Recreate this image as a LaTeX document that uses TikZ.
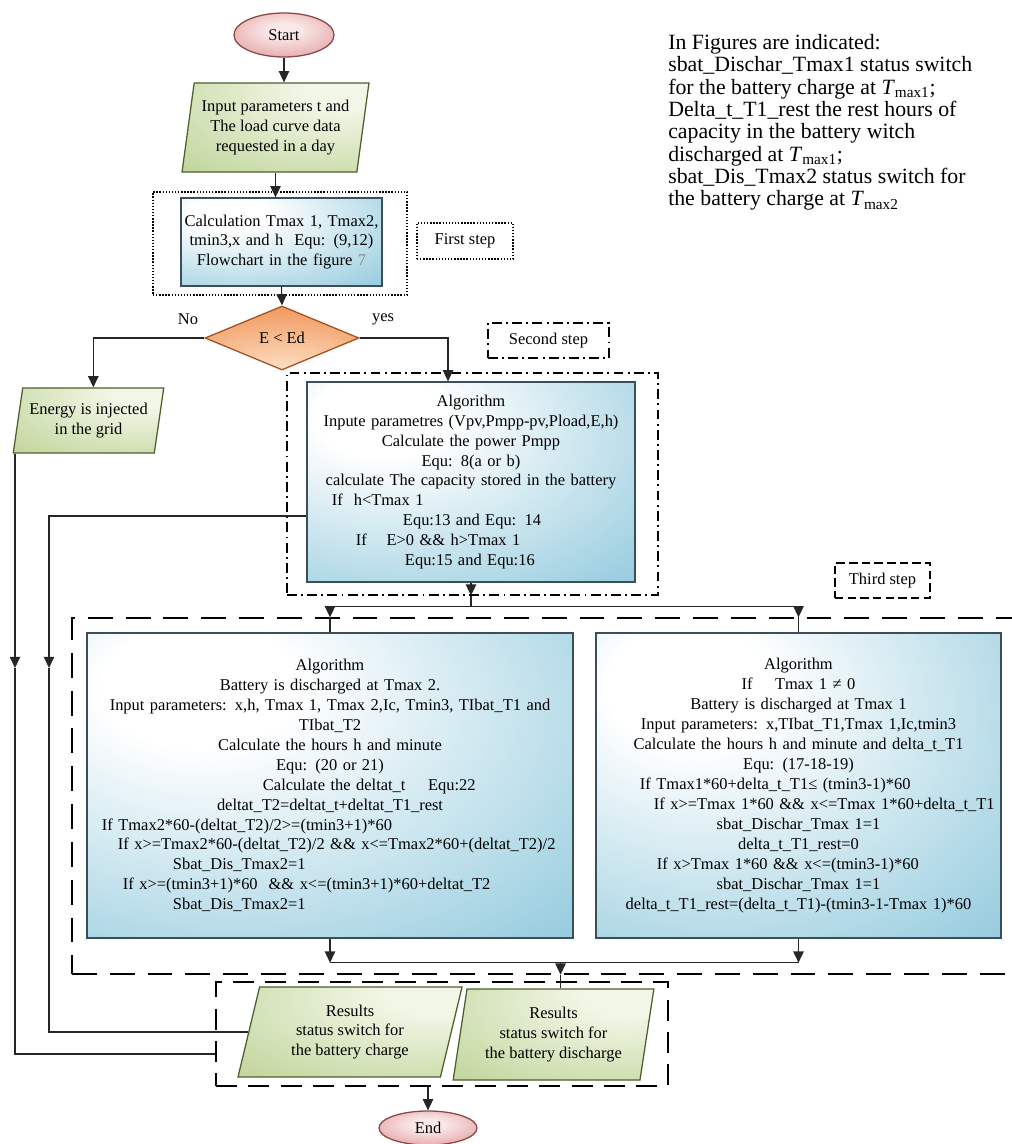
\documentclass[tikz,border=0pt]{standalone}
\usepackage{fontspec}
\setmainfont{Liberation Serif}
\usetikzlibrary{shapes.geometric,arrows.meta,calc}
\definecolor{boxblue}{RGB}{72,166,198}
\definecolor{boxedge}{RGB}{60,78,90}
\definecolor{grlight}{RGB}{242,246,230}
\definecolor{grdark}{RGB}{150,186,92}
\definecolor{gredge}{RGB}{78,95,45}
\definecolor{pinkin}{RGB}{250,232,232}
\definecolor{pinkout}{RGB}{214,118,120}
\definecolor{pinkedge}{RGB}{140,70,70}
\definecolor{orin}{RGB}{252,218,190}
\definecolor{orout}{RGB}{236,124,52}
\definecolor{oredge}{RGB}{165,80,30}
\pgfdeclareradialshading{bluegrad}{\pgfpoint{-15bp}{18bp}}{color(0bp)=(white);color(10bp)=(white);color(75bp)=(boxblue);color(100bp)=(boxblue)}
\pgfdeclareradialshading{greengrad}{\pgfpoint{22bp}{25bp}}{color(0bp)=(grlight);color(12bp)=(grlight);color(85bp)=(grdark);color(100bp)=(grdark)}
\pgfdeclareradialshading{pinkgrad}{\pgfpoint{0bp}{6bp}}{color(0bp)=(pinkin);color(8bp)=(pinkin);color(50bp)=(pinkout);color(100bp)=(pinkout)}
\pgfdeclareradialshading{orangegrad}{\pgfpoint{0bp}{-35bp}}{color(0bp)=(orin);color(10bp)=(orin);color(60bp)=(orout);color(100bp)=(orout)}
\newcommand{\indline}[2]{\makebox[\hsize][l]{\hspace*{#1}#2}}
\tikzset{
	txt/.style={font=\fontsize{11.7}{14.17}\selectfont},
	algbox/.style={txt, rectangle, draw=boxedge, line width=0.9pt, shade, shading=bluegrad, inner sep=0pt, align=center},
	iobox/.style={txt, trapezium, trapezium stretches=true, draw=gredge, line width=0.9pt, shade, shading=greengrad, inner sep=1pt, align=center},
	termbox/.style={txt, ellipse, draw=pinkedge, line width=0.9pt, shade, shading=pinkgrad, inner sep=0pt},
	decbox/.style={txt, diamond, draw=oredge, line width=0.9pt, shade, shading=orangegrad, inner sep=0pt},
	stepone/.style={draw, line width=0.8pt, dash pattern=on 1pt off 1.2pt, inner sep=0pt},
	steptwo/.style={draw, line width=0.8pt, dash pattern=on 7pt off 3pt on 1.4pt off 3pt, inner sep=0pt},
	stepthree/.style={draw, line width=0.9pt, dash pattern=on 17.7pt off 9.2pt, inner sep=0pt},
	steplab/.style={draw, line width=0.9pt, dash pattern=on 6pt off 3pt, inner sep=0pt},
	stepres/.style={draw, line width=0.9pt, dash pattern=on 15pt off 8pt, inner sep=0pt},
	conn/.style={draw=black!85, line width=0.8pt},
	arr/.style={conn, -{Triangle[length=2.8mm,width=2.6mm]}}
}
\begin{document}
\begin{tikzpicture}[x=0.025cm, y=-0.025cm]
	%%%%% START %%%%%
	\useasboundingbox (0, 0) rectangle (1012, 1144);
	
	% frames
	\node[stepone, minimum width=6.35cm, minimum height=2.575cm] (fr1) at (280, 243.5) {};
	\node[steptwo, minimum width=9.275cm, minimum height=5.55cm] (fr2) at (472.5, 484) {};
	\node[stepthree, minimum width=23.95cm, minimum height=8.9cm] (fr3) at (551, 796) {};
	\node[stepres, minimum width=11.3cm, minimum height=2.6cm] (fr4) at (442, 1034) {};
	
	\node[stepone, txt, minimum width=2.4cm, minimum height=0.9cm] (lab1) at (465, 241) {First step};
	\node[steptwo, txt, minimum width=3.025cm, minimum height=0.875cm] (lab2) at (548.5, 340.5) {Second step};
	\node[steplab, txt, minimum width=2.375cm, minimum height=0.875cm] (lab3) at (882.5, 580.5) {Third step};
	
	% flow
	\node[termbox, minimum width=2.5cm, minimum height=1.1cm] (start) at (284, 35) {Start};
	\node[iobox, trapezium left angle=79, trapezium right angle=101, minimum width=4.675cm, minimum height=2.225cm] (inp) at (275.5, 127.5) {Input parameters t and\\The load curve data\\requested in a day};
	\node[algbox, text width=5.025cm, minimum height=2.2cm] (calc) at (281.5, 242) {Calculation Tmax 1, Tmax2,\\tmin3,x and h~ Equ: (9,12)\\Flowchart in the figure {\color{black!45}7}};
	\node[decbox, minimum width=3.85cm, minimum height=1.6cm] (dec) at (282, 338) {E < Ed};
	\node[txt] (no) at (188, 319) {No};
	\node[txt] (yes) at (383, 319) {yes};
	\node[iobox, trapezium left angle=77, trapezium right angle=103, minimum width=3.775cm, minimum height=1.625cm] (energy) at (88.5, 420.5) {Energy is injected\\in the grid};
	
	\node[algbox, text width=8.2cm, minimum height=5cm] (alg2) at (471, 482) {Algorithm\\
		Inpute parametres (Vpv,Pmpp-pv,Pload,E,h)\\
		Calculate the power Pmpp\\
		Equ: 8(a or b)\\
		calculate The capacity stored in the battery\\
		\indline{0.625cm}{If~~h<Tmax 1}\\
		\indline{2.4cm}{Equ:13 and Equ: 14}\\
		\indline{1.225cm}{If\hspace{14pt}E>0 \&\& h>Tmax 1}\\
		\indline{2.45cm}{Equ:15 and Equ:16}\par\vspace*{0.55cm}};
	
	\node[algbox, text width=12.15cm, minimum height=7.625cm] (alg3) at (330, 785.5) {Algorithm\\
		Battery is discharged at Tmax 2.\\
		Input parameters: x,h, Tmax 1, Tmax 2,Ic, Tmin3, TIbat\_T1 and\\
		TIbat\_T2\\
		Calculate the hours h and minute\\
		Equ: (20 or 21)\\
		\indline{4.4cm}{Calculate the deltat\_t\hspace{16pt}Equ:22}\\
		deltat\_T2=deltat\_t+deltat\_T1\_rest\\
		\indline{0.375cm}{If Tmax2*60-(deltat\_T2)/2>=(tmin3+1)*60}\\
		\indline{0.775cm}{If x>=Tmax2*60-(deltat\_T2)/2 \&\& x<=Tmax2*60+(deltat\_T2)/2}\\
		\indline{2.15cm}{Sbat\_Dis\_Tmax2=1}\\
		\indline{0.9cm}{If x>=(tmin3+1)*60~ \&\& x<=(tmin3+1)*60+deltat\_T2}\\
		\indline{2.15cm}{Sbat\_Dis\_Tmax2=1}};
	
	\node[algbox, text width=10.125cm, minimum height=7.625cm] (alg4) at (798.5, 785.5) {Algorithm\\
		If\hspace{16pt}Tmax 1 ≠ 0\\
		Battery is discharged at Tmax 1\\
		Input parameters: x,TIbat\_T1,Tmax 1,Ic,tmin3\\
		Calculate the hours h and minute and delta\_t\_T1\\
		Equ: (17-18-19)\\
		\indline{1.1cm}{If Tmax1*60+delta\_t\_T1≤ (tmin3-1)*60}\\
		\indline{1.45cm}{If x>=Tmax 1*60 \&\& x<=Tmax 1*60+delta\_t\_T1}\\
		sbat\_Dischar\_Tmax 1=1\\
		delta\_t\_T1\_rest=0\\
		\indline{1.525cm}{If x>Tmax 1*60 \&\& x<=(tmin3-1)*60}\\
		sbat\_Dischar\_Tmax 1=1\\
		delta\_t\_T1\_rest=(delta\_t\_T1)-(tmin3-1-Tmax 1)*60\par\vspace*{0.45cm}};
	
	\node[iobox, trapezium left angle=76, trapezium right angle=104, minimum width=5.6cm, minimum height=2.25cm] (res1) at (350, 1032) {Results\\status switch for\\the battery charge};
	\node[iobox, trapezium left angle=79, trapezium right angle=101, minimum width=5.025cm, minimum height=2.275cm] (res2) at (553.5, 1034.5) {Results\\status switch for\\the battery discharge};
	\node[termbox, minimum width=2.45cm, minimum height=0.85cm] (end) at (428, 1128) {End};
	
	% note
	\node[anchor=north west, align=left, inner sep=0pt, font=\fontsize{15.5}{15.9}\selectfont] (note) at (668, 34) {In Figures are indicated:\\
		sbat\_Dischar\_Tmax1 status switch\\
		for the battery charge at \textit{T}\textsubscript{max1};\\
		Delta\_t\_T1\_rest the rest hours of\\
		capacity in the battery witch\\
		discharged at \textit{T}\textsubscript{max1};\\
		sbat\_Dis\_Tmax2 status switch for\\
		the battery charge at \textit{T}\textsubscript{max2}};
	
	% connectors
	\draw[arr] (start.south) -- (start.south |- inp.north);
	\draw[arr] (inp.center |- inp.south) -- (inp.center |- calc.north);
	\draw[arr] (calc.south) -- (dec.north);
	\draw[arr] (dec.west) -| (energy.top side);
	\draw[arr] (dec.east) -| ($(alg2.north)+(-23, 0)$);
	
	\coordinate (m1) at (49, 668);
	\draw[arr] ($(alg2.west)+(0, 34)$) -| (m1);
	\draw[conn] (m1) |- (res1.left side);
	\coordinate (m2) at (15, 668);
	\draw[arr] (m2 |- energy.south) -- (m2);
	\draw[conn] (m2) |- ($(fr4.west)+(0, 20)$);
	
	\draw[arr] (alg2.south) -- (alg2.south |- fr2.south);
	\coordinate (sp) at ($(alg2.south |- fr2.south)+(0, 11)$);
	\draw[conn] (alg2.south |- fr2.south) -- (sp);
	\draw[arr] (sp) -| (alg3.north |- fr3.north);
	\draw[arr] (sp) -| (alg4.north |- fr3.north);
	\draw[conn] (alg3.north |- fr3.north) -- (alg3.north);
	\draw[conn] (alg4.north |- fr3.north) -- (alg4.north);
	
	\coordinate (jn) at ($(alg3.south)+(0, 24)$);
	\draw[arr] (alg3.south) -- (jn);
	\draw[arr] (alg4.south) -- (alg4.south |- jn);
	\draw[conn] (jn) -- (alg4.south |- jn);
	\draw[arr] (res2.top side |- jn) -- (res2.top side |- fr3.south);
	\draw[conn] (res2.top side |- fr3.south) -- (res2.top side);
	\draw[arr] (end.north |- fr4.south) -- (end.north);
	%%%%% END %%%%%
\end{tikzpicture}
\end{document}
